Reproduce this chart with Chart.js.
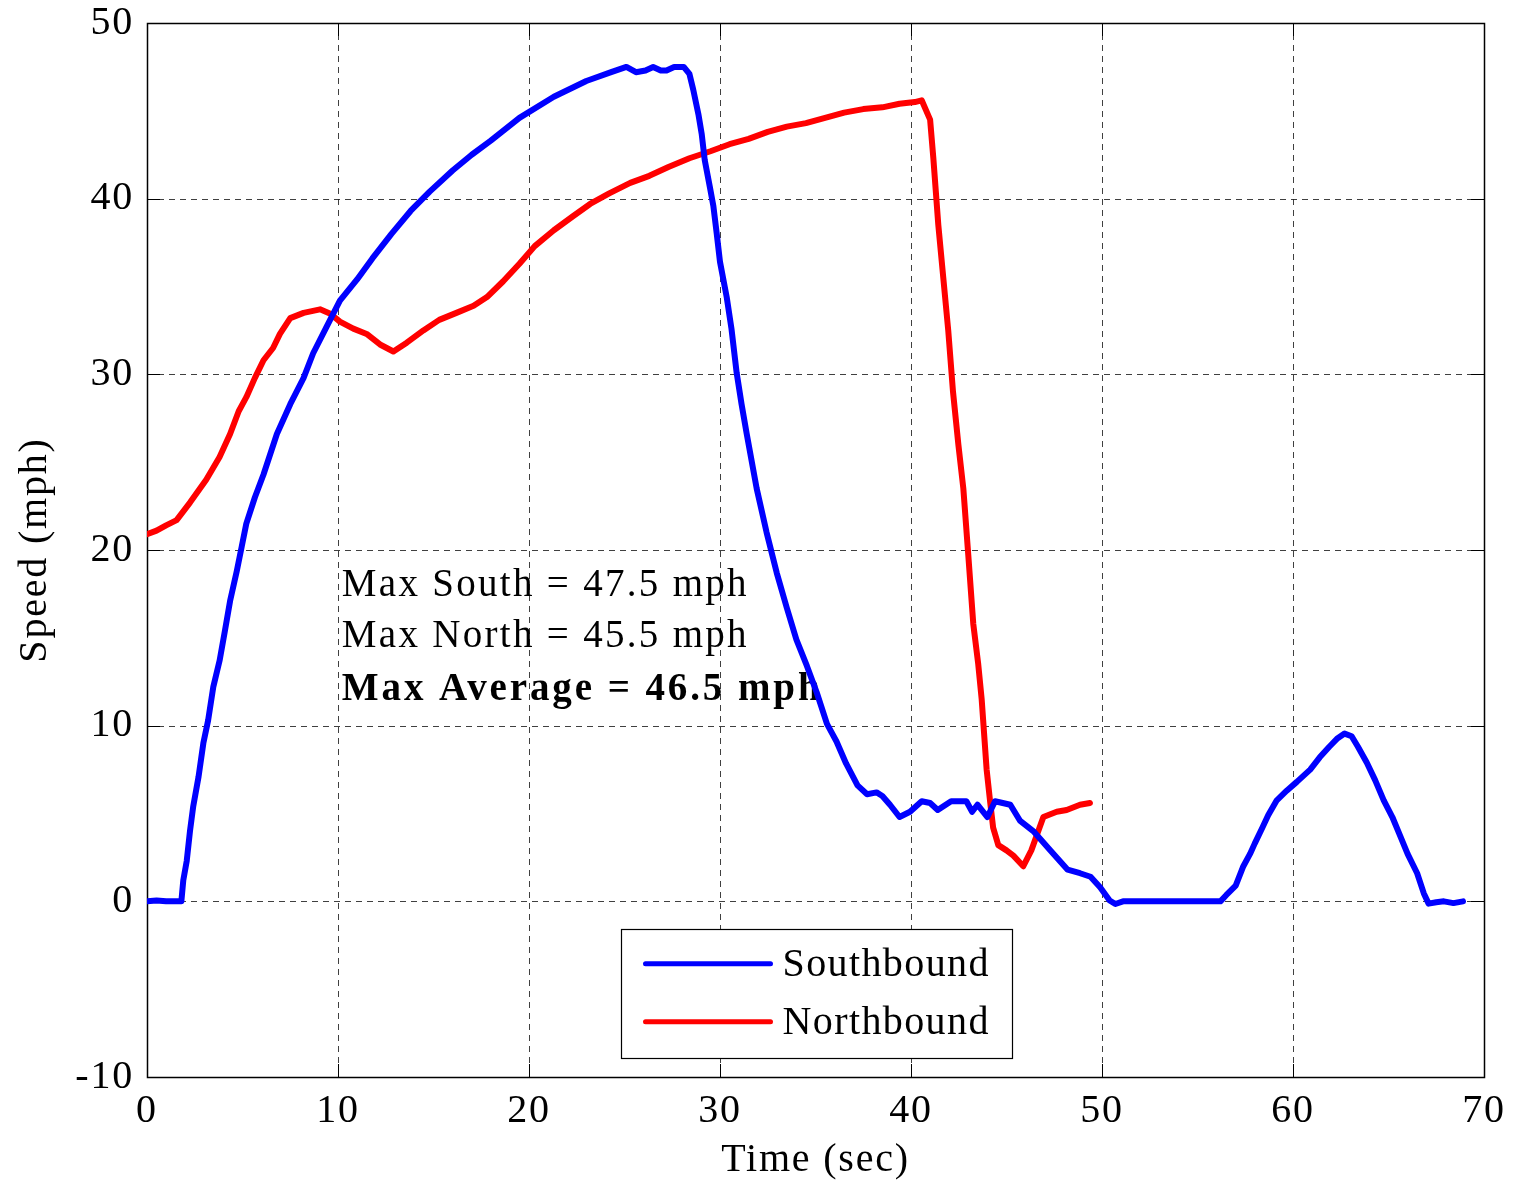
<!DOCTYPE html>
<html>
<head>
<meta charset="utf-8">
<script src="https://cdn.jsdelivr.net/npm/chart.js@4"></script>
<style>
  html, body { margin: 0; padding: 0; background: #ffffff; }
  #wrap { width: 1514px; height: 1185px; }
</style>
</head>
<body>
<div id="wrap"><canvas id="c" width="1514" height="1185"></canvas></div>
<script>
// ---- data ----
const southTime = [0,0.5,1.0,1.5,1.8,1.9,2.08,2.25,2.42,2.7,2.95,3.2,3.47,3.8,4.08,4.35,4.7,4.96,5.2,5.65,6.1,6.8,7.5,8.2,8.7,9.4,10.1,11.0,11.8,12.8,13.8,14.8,16.0,17.0,18.0,19.5,21.3,23.0,24.3,25.1,25.6,26.1,26.5,26.9,27.2,27.6,28.1,28.4,28.6,28.87,29.04,29.2,29.48,29.65,29.83,30.0,30.35,30.6,30.87,31.13,31.4,31.92,32.44,32.97,33.5,34.0,34.55,35.06,35.6,36.1,36.6,37.2,37.7,38.2,38.5,38.9,39.4,39.95,40.56,41.0,41.4,42.1,42.9,43.2,43.48,44.0,44.4,45.2,45.7,46.4,47.3,48.2,48.85,49.4,49.9,50.4,50.7,51.1,52,54,56.2,56.5,57.0,57.4,57.75,58.0,58.4,58.7,59.15,59.67,60.2,60.9,61.4,61.9,62.3,62.7,63.07,63.4,63.86,64.3,64.75,65.2,65.6,66.0,66.5,66.85,67.1,67.5,67.9,68.4,68.9];
const southSpeed = [0,0.05,0,0,0,1.2,2.3,4.0,5.4,7.1,9.0,10.3,12.2,13.7,15.4,17.1,18.8,20.2,21.5,23.0,24.3,26.6,28.3,29.8,31.2,32.7,34.2,35.4,36.6,38.0,39.3,40.4,41.6,42.5,43.3,44.6,45.8,46.7,47.2,47.5,47.2,47.3,47.5,47.3,47.3,47.5,47.5,47.1,46.2,44.8,43.7,42.2,40.6,39.6,38.0,36.4,34.4,32.6,30.1,28.3,26.6,23.5,21.0,18.7,16.7,14.9,13.4,11.9,10.1,9.1,7.85,6.6,6.1,6.2,6.0,5.5,4.8,5.1,5.7,5.6,5.2,5.7,5.7,5.1,5.5,4.8,5.7,5.5,4.6,4.0,2.9,1.8,1.6,1.4,0.8,0.05,-0.15,0,0,0,0,0.35,0.9,2.0,2.7,3.3,4.2,4.9,5.75,6.3,6.8,7.5,8.2,8.8,9.25,9.55,9.4,8.8,7.9,6.9,5.75,4.8,3.75,2.7,1.6,0.45,-0.13,-0.05,0,-0.1,0];

const northTime = [0,0.5,1.0,1.55,2.25,3.1,3.8,4.35,4.8,5.2,5.65,6.1,6.6,6.96,7.5,8.2,9.06,9.6,10.1,10.8,11.5,12.2,12.9,13.6,14.47,15.3,16.2,17.1,17.8,18.65,19.5,20.3,21.3,22.3,23.2,24.2,25.3,26.3,27.3,28.4,29.5,30.5,31.5,32.5,33.5,34.5,35.5,36.5,37.5,38.5,39.4,40.2,40.56,41.0,41.17,41.43,41.69,41.95,42.2,42.48,42.74,43.0,43.26,43.52,43.7,43.96,44.14,44.3,44.57,45.0,45.36,45.88,46.3,46.6,46.93,47.63,48.15,48.85,49.37];
const northSpeed = [20.9,21.1,21.4,21.7,22.7,24.0,25.3,26.6,27.9,28.7,29.8,30.8,31.5,32.3,33.2,33.5,33.7,33.45,33.0,32.6,32.3,31.7,31.3,31.8,32.5,33.1,33.5,33.9,34.4,35.3,36.3,37.3,38.2,39.0,39.7,40.3,40.9,41.3,41.8,42.3,42.7,43.1,43.4,43.8,44.1,44.3,44.6,44.9,45.1,45.2,45.4,45.5,45.6,44.5,42.3,38.5,35.5,32.5,29.0,26.0,23.5,19.7,15.8,13.5,11.5,7.5,5.7,4.2,3.2,2.9,2.6,2.0,2.9,3.8,4.8,5.1,5.2,5.5,5.6];

const seriesNames = ['Southbound', 'Northbound'];
const seriesColors = ['#0000ff', '#ff0000'];
const xTickValues = [0,10,20,30,40,50,60,70];
const yTickValues = [-10,0,10,20,30,40,50];
const xTitle = 'Time (sec)';
const yTitle = 'Speed (mph)';
const noteLines = ['Max South = 47.5 mph', 'Max North = 45.5 mph', 'Max Average = 46.5 mph'];
const noteBold = [false, false, true];
// anchor of the note block and legend box in data units
const noteAnchorX = 10.2;
const noteBaselines = [17.36, 14.46, 11.44];
const legendBox = { x0: 24.8, x1: 45.3, y0: -1.6, y1: -8.9 };

const FONT = "'Liberation Serif', 'Times New Roman', serif";

const toXY = (ts, vs) => ts.map((t, i) => ({ x: t, y: vs[i] }));

const framePlugin = {
  id: 'frame',
  beforeDraw(chart) {
    const ctx = chart.ctx;
    ctx.save();
    ctx.fillStyle = '#ffffff';
    ctx.fillRect(0, 0, chart.width, chart.height);
    ctx.restore();
    // slightly spaced lettering for axis titles and tick labels
    ctx.letterSpacing = '1.8px';
  },
  beforeDatasetsDraw(chart) {
    const { ctx, chartArea: a, scales } = chart;
    const xs = scales.x, ys = scales.y;
    ctx.save();
    // dashed grid
    ctx.strokeStyle = 'rgba(30,30,30,0.85)';
    ctx.lineWidth = 1;
    ctx.setLineDash([6, 5]);
    xTickValues.forEach(v => {
      const px = Math.round(xs.getPixelForValue(v)) + 0.5;
      if (px <= a.left + 1 || px >= a.right - 1) return;
      ctx.beginPath(); ctx.moveTo(px, a.top); ctx.lineTo(px, a.bottom); ctx.stroke();
    });
    yTickValues.forEach(v => {
      const py = Math.round(ys.getPixelForValue(v)) + 0.5;
      if (py <= a.top + 1 || py >= a.bottom - 1) return;
      ctx.beginPath(); ctx.moveTo(a.left, py); ctx.lineTo(a.right, py); ctx.stroke();
    });
    ctx.setLineDash([]);
    // inward ticks
    ctx.strokeStyle = '#000';
    const tl = 13;
    xTickValues.forEach(v => {
      const px = Math.round(xs.getPixelForValue(v)) + 0.5;
      ctx.beginPath(); ctx.moveTo(px, a.bottom); ctx.lineTo(px, a.bottom - tl); ctx.stroke();
      ctx.beginPath(); ctx.moveTo(px, a.top); ctx.lineTo(px, a.top + tl); ctx.stroke();
    });
    yTickValues.forEach(v => {
      const py = Math.round(ys.getPixelForValue(v)) + 0.5;
      ctx.beginPath(); ctx.moveTo(a.left, py); ctx.lineTo(a.left + tl, py); ctx.stroke();
      ctx.beginPath(); ctx.moveTo(a.right, py); ctx.lineTo(a.right - tl, py); ctx.stroke();
    });
    // frame
    ctx.lineWidth = 1.5;
    ctx.strokeRect(Math.round(a.left) + 0.5, Math.round(a.top) + 0.5, Math.round(a.right - a.left), Math.round(a.bottom - a.top));
    // annotation text
    ctx.fillStyle = '#000';
    ctx.textAlign = 'left';
    ctx.textBaseline = 'alphabetic';
    noteLines.forEach((s, i) => {
      ctx.font = (noteBold[i] ? 'bold ' : '') + '39px ' + FONT;
      ctx.letterSpacing = noteBold[i] ? '2.9px' : '2.3px';
      ctx.fillText(s, xs.getPixelForValue(noteAnchorX), ys.getPixelForValue(noteBaselines[i]));
    });
    ctx.restore();
  },
  afterDatasetsDraw(chart) {
    const { ctx, scales } = chart;
    const xs = scales.x, ys = scales.y;
    const x0 = Math.round(xs.getPixelForValue(legendBox.x0)) + 0.5;
    const x1 = Math.round(xs.getPixelForValue(legendBox.x1)) + 0.5;
    const y0 = Math.round(ys.getPixelForValue(legendBox.y0)) + 0.5;
    const y1 = Math.round(ys.getPixelForValue(legendBox.y1)) + 0.5;
    ctx.save();
    ctx.fillStyle = '#fff';
    ctx.fillRect(x0, y0, x1 - x0, y1 - y0);
    ctx.strokeStyle = '#000';
    ctx.lineWidth = 1.2;
    ctx.strokeRect(x0, y0, x1 - x0, y1 - y0);
    const h = y1 - y0;
    seriesNames.forEach((name, i) => {
      const cy = y0 + h * (i === 0 ? 0.265 : 0.715);
      ctx.strokeStyle = seriesColors[i];
      ctx.lineWidth = 5;
      ctx.lineCap = 'round';
      ctx.beginPath(); ctx.moveTo(x0 + 24, cy); ctx.lineTo(x0 + 149, cy); ctx.stroke();
      ctx.fillStyle = '#000';
      ctx.font = '40px ' + FONT;
      ctx.letterSpacing = '1.4px';
      ctx.textAlign = 'left';
      ctx.textBaseline = 'middle';
      ctx.fillText(name, x0 + 161, cy + 2);
    });
    ctx.restore();
  }
};

const chart = new Chart(document.getElementById('c'), {
  type: 'line',
  data: {
    datasets: [
      { label: seriesNames[0], data: toXY(southTime, southSpeed), borderColor: seriesColors[0], borderWidth: 6, pointRadius: 0, tension: 0, fill: false, borderJoinStyle: 'round', borderCapStyle: 'round' },
      { label: seriesNames[1], data: toXY(northTime, northSpeed), borderColor: seriesColors[1], borderWidth: 6, pointRadius: 0, tension: 0, fill: false, borderJoinStyle: 'round', borderCapStyle: 'round' }
    ]
  },
  options: {
    responsive: false,
    animation: false,
    devicePixelRatio: 1,
    layout: { padding: { left: 0, top: 23, right: 30, bottom: 0 } },
    plugins: { legend: { display: false }, tooltip: { enabled: false } },
    scales: {
      x: {
        type: 'linear', min: 0, max: 70,
        afterBuildTicks: s => { s.ticks = xTickValues.map(v => ({ value: v })); },
        afterFit: s => { s.height = 108; s.paddingLeft = 0; s.paddingRight = 0; },
        grid: { display: false, drawTicks: false },
        border: { display: false },
        ticks: { color: '#000', font: { family: FONT, size: 40 }, padding: 10, maxRotation: 0, autoSkip: false },
        title: { display: true, text: xTitle, color: '#000', font: { family: FONT, size: 40 }, padding: { top: 0, bottom: 1 } }
      },
      y: {
        type: 'linear', min: -10, max: 50,
        afterBuildTicks: s => { s.ticks = yTickValues.map(v => ({ value: v })); },
        afterFit: s => { s.width = 147; s.paddingTop = 0; s.paddingBottom = 0; },
        grid: { display: false, drawTicks: false },
        border: { display: false },
        ticks: { color: '#000', font: { family: FONT, size: 40 }, padding: 13, autoSkip: false },
        title: { display: true, text: yTitle, color: '#000', font: { family: FONT, size: 40 }, padding: { top: 11, bottom: 0 } }
      }
    }
  },
  plugins: [framePlugin]
});
</script>
</body>
</html>
